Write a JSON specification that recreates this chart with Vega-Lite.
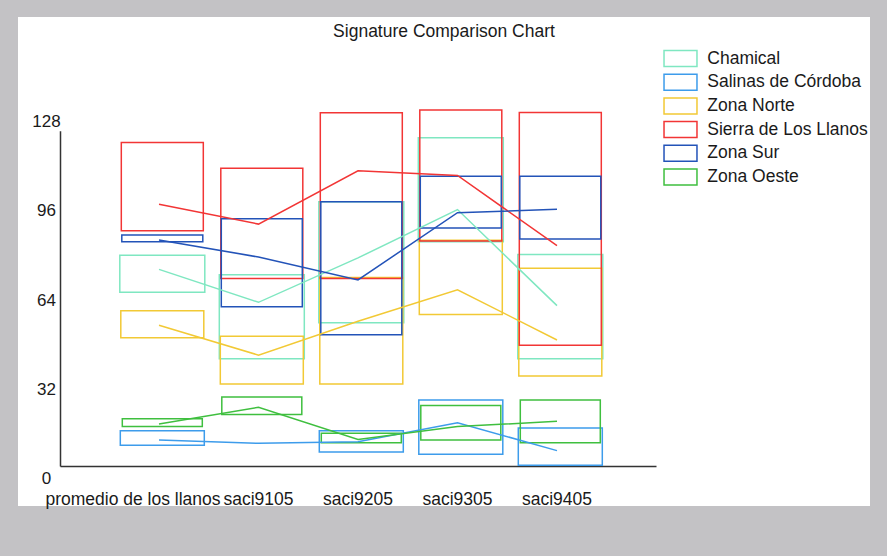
{
  "$schema": "https://vega.github.io/schema/vega-lite/v6.json",
  "width": 852,
  "height": 489,
  "autosize": {"type": "none"},
  "padding": {"left": 18, "top": 17, "right": 17, "bottom": 50},
  "background": "#c3c2c5",
  "config": {
    "view": {"fill": "white", "stroke": null},
    "font": "Liberation Sans",
    "axis": {"grid": false, "ticks": false, "tickSize": 0, "labelColor": "#1a1a1a", "domainColor": "#333333", "domainWidth": 1.5, "title": null, "labelFont": "Liberation Sans"}
  },
  "title": {"text": "Signature Comparison Chart", "anchor": "middle", "orient": "top", "offset": -17.5, "dy": 19.5, "baseline": "alphabetic", "fontSize": 17.5, "fontWeight": "normal", "color": "#1a1a1a", "font": "Liberation Sans"},
  "data": {
    "values": [
      {"image": "promedio de los llanos", "zone": "Chamical", "max": 75.5, "min": 62.2, "mean": 70.4},
      {"image": "promedio de los llanos", "zone": "Salinas de Córdoba", "max": 12.6, "min": 7.4, "mean": 9.3},
      {"image": "promedio de los llanos", "zone": "Zona Norte", "max": 55.6, "min": 45.9, "mean": 50.4},
      {"image": "promedio de los llanos", "zone": "Sierra de Los Llanos", "max": 115.8, "min": 84.2, "mean": 93.7},
      {"image": "promedio de los llanos", "zone": "Zona Sur", "max": 82.7, "min": 80.3, "mean": 80.9},
      {"image": "promedio de los llanos", "zone": "Zona Oeste", "max": 16.9, "min": 14.1, "mean": 15.0},
      {"image": "saci9105", "zone": "Chamical", "max": 68.5, "min": 38.4, "mean": 58.6},
      {"image": "saci9105", "zone": "Salinas de Córdoba", "max": null, "min": null, "mean": 8.1},
      {"image": "saci9105", "zone": "Zona Norte", "max": 46.5, "min": 29.4, "mean": 39.7},
      {"image": "saci9105", "zone": "Sierra de Los Llanos", "max": 106.6, "min": 67.1, "mean": 86.6},
      {"image": "saci9105", "zone": "Zona Sur", "max": 88.5, "min": 57.0, "mean": 74.8},
      {"image": "saci9105", "zone": "Zona Oeste", "max": 24.7, "min": 18.4, "mean": 21.0},
      {"image": "saci9205", "zone": "Chamical", "max": 94.6, "min": 51.3, "mean": 74.5},
      {"image": "saci9205", "zone": "Salinas de Córdoba", "max": 12.6, "min": 5.0, "mean": 8.7},
      {"image": "saci9205", "zone": "Zona Norte", "max": 67.5, "min": 29.4, "mean": 51.8},
      {"image": "saci9205", "zone": "Sierra de Los Llanos", "max": 126.5, "min": 67.1, "mean": 105.7},
      {"image": "saci9205", "zone": "Zona Sur", "max": 94.6, "min": 47.0, "mean": 66.6},
      {"image": "saci9205", "zone": "Zona Oeste", "max": 11.7, "min": 8.3, "mean": 9.5},
      {"image": "saci9305", "zone": "Chamical", "max": 117.5, "min": 80.3, "mean": 91.8},
      {"image": "saci9305", "zone": "Salinas de Córdoba", "max": 23.6, "min": 4.2, "mean": 15.5},
      {"image": "saci9305", "zone": "Zona Norte", "max": 80.8, "min": 54.2, "mean": 63.1},
      {"image": "saci9305", "zone": "Sierra de Los Llanos", "max": 127.5, "min": 80.6, "mean": 104.0},
      {"image": "saci9305", "zone": "Zona Sur", "max": 103.7, "min": 85.2, "mean": 90.7},
      {"image": "saci9305", "zone": "Zona Oeste", "max": 21.7, "min": 9.3, "mean": 14.1},
      {"image": "saci9405", "zone": "Chamical", "max": 75.7, "min": 38.4, "mean": 57.4},
      {"image": "saci9405", "zone": "Salinas de Córdoba", "max": 13.6, "min": 0.25, "mean": 5.5},
      {"image": "saci9405", "zone": "Zona Norte", "max": 70.8, "min": 32.2, "mean": 45.1},
      {"image": "saci9405", "zone": "Sierra de Los Llanos", "max": 126.6, "min": 43.2, "mean": 78.9},
      {"image": "saci9405", "zone": "Zona Sur", "max": 103.7, "min": 81.3, "mean": 91.9},
      {"image": "saci9405", "zone": "Zona Oeste", "max": 23.6, "min": 8.3, "mean": 16.0}
    ]
  },
  "encoding": {
    "x": {
      "field": "image",
      "type": "nominal",
      "scale": {"type": "band", "domain": ["promedio de los llanos", "saci9105", "saci9205", "saci9305", "saci9405"], "range": [42, 638], "paddingInner": 0, "paddingOuter": 0.495},
      "axis": {
        "orient": "bottom",
        "offset": -40,
        "labelPadding": 38,
        "labelBaseline": "alphabetic",
        "labelFontSize": 17.5,
        "labelAngle": 0,
        "labelOverlap": false,
        "labelLimit": 400,
        "labelOffset": {"condition": {"test": "datum.value === 'promedio de los llanos'", "value": -26}, "value": 0}
      }
    }
  },
  "layer": [
    {
      "mark": {"type": "bar", "fill": "transparent", "strokeWidth": 1.5, "xOffset": 3.3},
      "encoding": {
        "y": {
          "field": "max",
          "type": "quantitative",
          "scale": {"domain": [0, 128], "range": [449, 91.5], "nice": false, "zero": false},
          "axis": {"orient": "left", "offset": -42, "values": [0, 32, 64, 96, 128], "domain": false, "labelAlign": "center", "labelPadding": 14, "labelBaseline": "alphabetic", "labelOffset": 17.8, "labelFontSize": 17, "title": null}
        },
        "y2": {"field": "min"},
        "stroke": {
          "field": "zone",
          "type": "nominal",
          "scale": {
            "domain": ["Chamical", "Salinas de Córdoba", "Zona Norte", "Sierra de Los Llanos", "Zona Sur", "Zona Oeste"],
            "range": ["#7fe7c1", "#3d9ceb", "#f2c935", "#f23535", "#2353b8", "#3fbf3f"]
          },
          "legend": null
        },
        "size": {
          "field": "zone",
          "type": "ordinal",
          "scale": {"domain": ["Chamical", "Salinas de Córdoba", "Zona Norte", "Sierra de Los Llanos", "Zona Sur", "Zona Oeste"], "range": [85, 80, 75, 69.5, 64, 58.5]},
          "legend": null
        }
      }
    },
    {
      "mark": {"type": "line", "strokeWidth": 1.5},
      "encoding": {
        "y": {
          "field": "mean",
          "type": "quantitative",
          "scale": {"domain": [0, 120], "range": [449, 113.8], "nice": false, "zero": false},
          "axis": {"orient": "left", "offset": -42, "values": [], "labels": false, "domain": true, "title": null}
        },
        "stroke": {
          "field": "zone",
          "type": "nominal",
          "legend": {
            "orient": "none",
            "legendX": 653.5,
            "legendY": 32.5,
            "title": null,
            "padding": 0,
            "symbolType": "M-2.06,-1H2.06V1H-2.06Z",
            "symbolSize": 256,
            "symbolStrokeWidth": 1.5,
            "symbolFillColor": "white",
            "symbolOpacity": 1,
            "labelFontSize": 17.5,
            "labelColor": "#1a1a1a",
            "labelOffset": 17.8,
            "rowPadding": 1.7,
            "labelFont": "Liberation Sans",
            "labelLimit": 400
          }
        }
      }
    }
  ],
  "resolve": {"scale": {"y": "independent"}, "legend": {"stroke": "independent"}}
}
